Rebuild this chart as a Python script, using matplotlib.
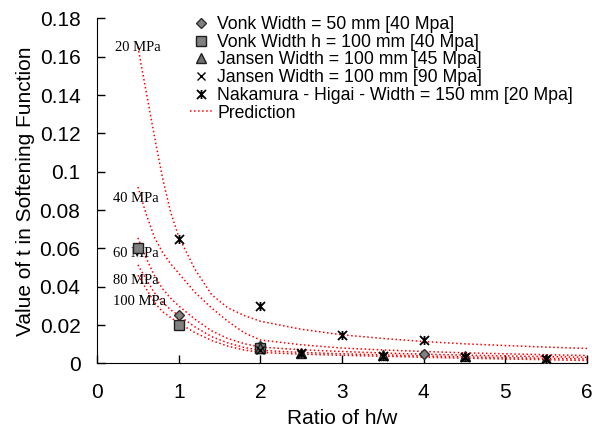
import matplotlib.pyplot as plt
from matplotlib.path import Path

plt.rcParams["font.family"] = ["Liberation Sans", "DejaVu Sans"]

# ============================
# DATOS
# ============================
ratio = [0.5, 0.6, 0.7, 0.8, 0.9, 1, 1.2, 1.4, 1.6, 1.8, 2, 2.5, 3, 3.5, 4, 4.5, 5, 5.5, 6]

pred_20 = [0.165, 0.142, 0.119, 0.097, 0.079, 0.066, 0.049, 0.036, 0.029, 0.025, 0.022,
           0.0178, 0.0149, 0.0130, 0.0114, 0.0102, 0.0093, 0.0085, 0.0078]
pred_40 = [0.092, 0.078, 0.066, 0.058, 0.052, 0.047, 0.037, 0.029, 0.022, 0.016, 0.0122,
           0.0097, 0.0080, 0.0070, 0.0062, 0.0055, 0.0050, 0.0045, 0.0041]
pred_60 = [0.0655, 0.055, 0.046, 0.039, 0.034, 0.030, 0.023, 0.017, 0.013, 0.0103, 0.0085,
           0.0071, 0.0062, 0.0054, 0.0048, 0.0043, 0.0039, 0.0035, 0.0032]
pred_80 = [0.0514, 0.044, 0.037, 0.032, 0.028, 0.025, 0.019, 0.014, 0.0107, 0.0083, 0.0068,
           0.0057, 0.0050, 0.0044, 0.0039, 0.0034, 0.0030, 0.0026, 0.0023]
pred_100 = [0.046, 0.039, 0.032, 0.027, 0.024, 0.021, 0.016, 0.012, 0.0090, 0.0070, 0.0057,
            0.0048, 0.0042, 0.0037, 0.0032, 0.0027, 0.0023, 0.0019, 0.0015]

predicciones = [pred_20, pred_40, pred_60, pred_80, pred_100]
etiquetas_pred = ["20 MPa", "40 MPa", "60 MPa", "80 MPa", "100 MPa"]
pos_etiquetas = [(0.22, 0.165), (0.20, 0.086), (0.20, 0.0575), (0.20, 0.0435), (0.20, 0.0325)]

vonk50_x = [1, 2, 4]
vonk50_y = [0.025, 0.009, 0.005]

vonk100_x = [0.5, 1, 2]
vonk100_y = [0.060, 0.020, 0.008]

jansen45_x = [2, 2.5, 3.5, 4.5, 5.5]
jansen45_y = [0.008, 0.0055, 0.0042, 0.0037, 0.0024]

jansen90_x = [2, 2.5, 3.5, 4.5, 5.5]
jansen90_y = [0.007, 0.0050, 0.0038, 0.0034, 0.0022]

nakamura_x = [1, 2, 3, 4, 2.5, 3.5, 4.5, 5.5]
nakamura_y = [0.065, 0.030, 0.015, 0.012, 0.0052, 0.0040, 0.0035, 0.0023]

# marcador estrella tipo Excel (x + barra vertical)
estrella = Path(
    [(-1, -1), (1, 1), (-1, 1), (1, -1), (0, -1), (0, 1)],
    [Path.MOVETO, Path.LINETO, Path.MOVETO, Path.LINETO, Path.MOVETO, Path.LINETO],
)

# ============================
# GRAFICADO
# ============================
fig = plt.figure(figsize=(5.92, 4.28), dpi=100)
ax = fig.add_axes([0.164, 0.151, 0.8277, 0.806])

for k, pred in enumerate(predicciones):
    ax.plot(ratio, pred, color="red", linestyle=":", linewidth=1.1,
            label="Prediction" if k == 0 else None, zorder=2)
    ax.text(pos_etiquetas[k][0], pos_etiquetas[k][1], etiquetas_pred[k],
            family="Liberation Serif", fontsize=10.5, va="center", ha="left")

ax.plot(vonk50_x, vonk50_y, linestyle="none", marker="D", markersize=5,
        markerfacecolor="#808080", markeredgecolor="#303030", label="Vonk Width = 50 mm [40 Mpa]", zorder=3)
ax.plot(vonk100_x, vonk100_y, linestyle="none", marker="s", markersize=7.5,
        markerfacecolor="#808080", markeredgecolor="#202020", label="Vonk Width h = 100 mm [40 Mpa]", zorder=3)
ax.plot(jansen45_x, jansen45_y, linestyle="none", marker="^", markersize=6.5,
        markerfacecolor="#707070", markeredgecolor="#202020", label="Jansen Width = 100 mm [45 Mpa]", zorder=3)
ax.plot(jansen90_x, jansen90_y, linestyle="none", marker="x", markersize=6,
        color="black", markeredgewidth=1.0, label="Jansen Width = 100 mm [90 Mpa]", zorder=4)
ax.plot(nakamura_x, nakamura_y, linestyle="none", marker=estrella, markersize=6.5,
        color="black", markeredgewidth=1.3, label="Nakamura - Higai - Width = 150 mm [20 Mpa]", zorder=4)

ax.set_xlim(0, 6)
ax.set_ylim(0, 0.18)
ax.set_xticks([0, 1, 2, 3, 4, 5, 6])
ax.set_xticklabels(["0", "1", "2", "3", "4", "5", "6"])
ax.set_yticks([0, 0.02, 0.04, 0.06, 0.08, 0.1, 0.12, 0.14, 0.16, 0.18])
ax.set_yticklabels(["0", "0.02", "0.04", "0.06", "0.08", "0.1", "0.12", "0.14", "0.16", "0.18"])
ax.tick_params(direction="in", length=6, width=1, labelsize=15, pad=12)
ax.tick_params(axis="x", pad=14)
ax.spines["top"].set_visible(False)
ax.spines["right"].set_visible(False)

ax.set_xlabel("Ratio of h/w", fontsize=15, labelpad=5)
ax.set_ylabel("Value of t in Softening Function", fontsize=15, labelpad=3.5)

handles, labels = ax.get_legend_handles_labels()
orden = [1, 2, 3, 4, 5, 0]
fig.legend([handles[i] for i in orden], [labels[i] for i in orden],
           loc="upper left", bbox_to_anchor=(190 / 592, 1 - 16 / 428), frameon=False,
           fontsize=12.7, labelspacing=0.04, handlelength=1.3, handletextpad=0.25,
           borderaxespad=0, borderpad=0)

fig.savefig("out.png", dpi=100)
